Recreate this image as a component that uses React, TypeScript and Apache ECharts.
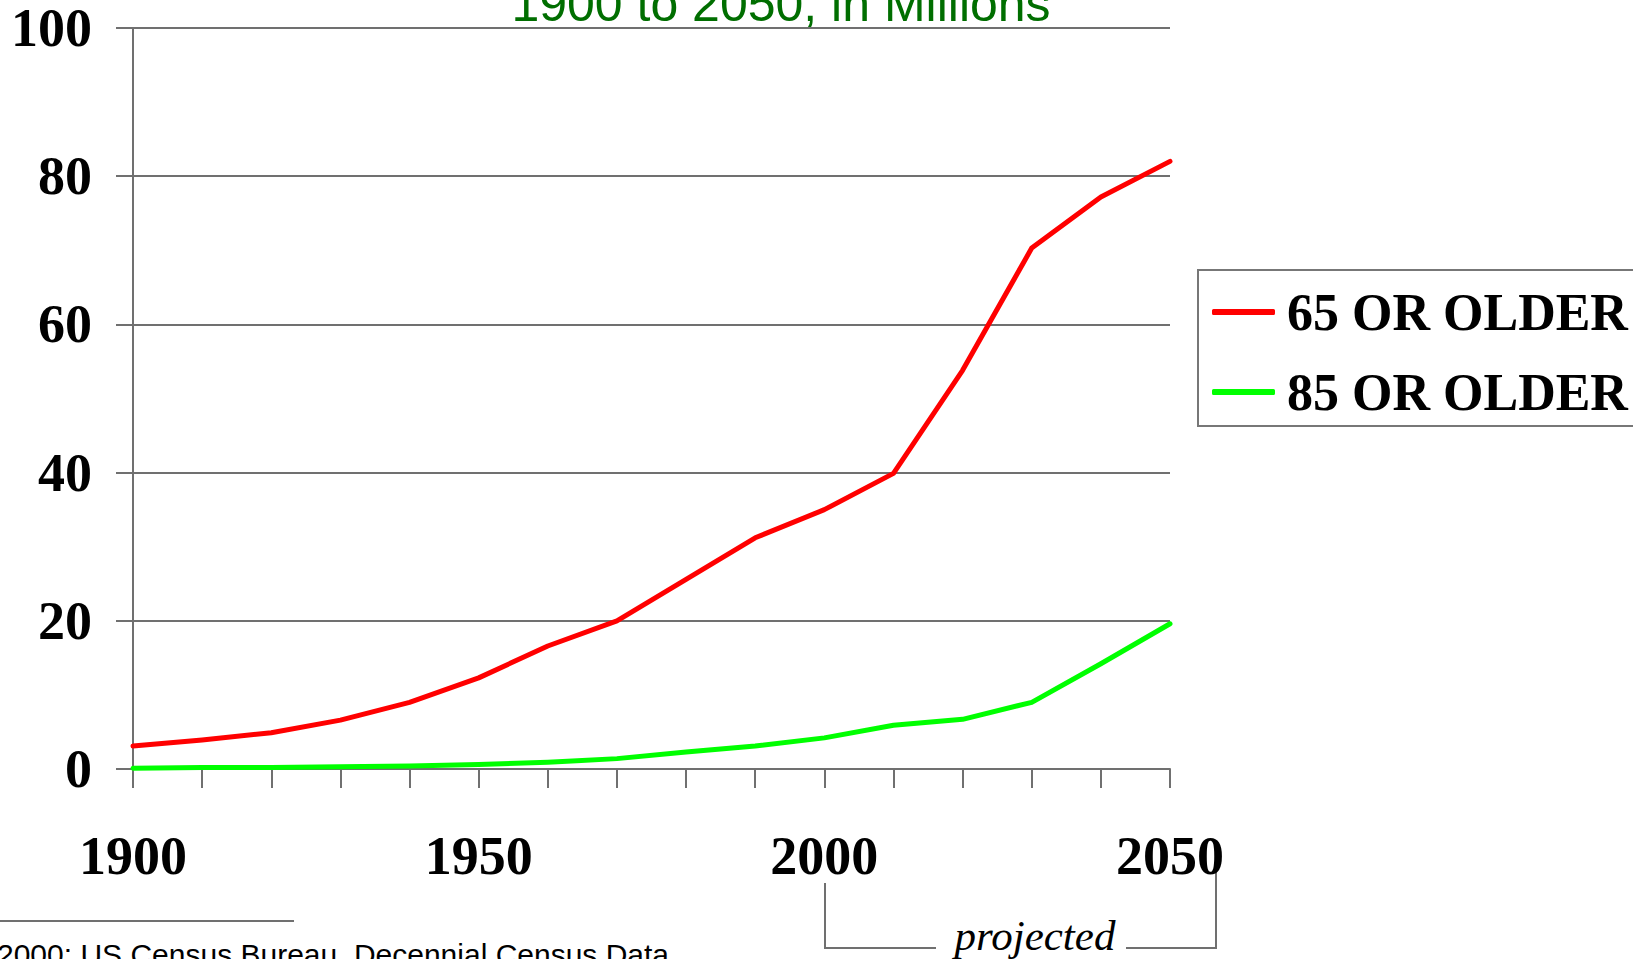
import React, { useEffect, useRef } from "react";
import * as echarts from "echarts";

const years = ["1900","1910","1920","1930","1940","1950","1960","1970","1980","1990","2000","2010","2020","2030","2040","2050"];
const age65 = [3.1, 3.9, 4.9, 6.6, 9.0, 12.3, 16.6, 20.0, 25.6, 31.2, 35.0, 39.9, 53.8, 70.3, 77.2, 82.0];
const age85 = [0.1, 0.2, 0.2, 0.3, 0.4, 0.6, 0.9, 1.4, 2.3, 3.1, 4.2, 5.9, 6.7, 9.0, 14.2, 19.6];
const seriesNames = ["65 OR OLDER", "85 OR OLDER"];
const titleText = "1900 to 2050, in Millions";
const sourceText = "2000: US Census Bureau, Decennial Census Data";
const projectedText = "projected";

const GRAY = "#707070";
const SERIF = '"Liberation Serif", "Times New Roman", serif';
const SANS = '"Liberation Sans", Arial, sans-serif';

export default function App() {
  const ref = useRef<HTMLDivElement>(null);
  useEffect(() => {
    if (!ref.current) return;
    const chart = echarts.init(ref.current, null, { renderer: "svg" });
    chart.setOption({
      animation: false,
      backgroundColor: "#ffffff",
      grid: { left: 133, right: 463, top: 28, bottom: 190, containLabel: false },
      legend: {
        orient: "vertical",
        left: 1198,
        top: 270,
        padding: [12, 60, 4, 14],
        itemGap: 20,
        itemWidth: 63,
        itemHeight: 6,
        icon: "roundRect",
        borderColor: "#777777",
        borderWidth: 2,
        backgroundColor: "#ffffff",
        data: seriesNames,
        textStyle: {
          fontFamily: SERIF,
          fontWeight: "bold",
          fontSize: 52,
          lineHeight: 60,
          color: "#000000",
          padding: [0, 0, 0, 7],
        },
      },
      xAxis: {
        type: "category",
        data: years,
        boundaryGap: false,
        axisLine: { show: true, lineStyle: { color: GRAY, width: 2 } },
        axisTick: { show: true, interval: 0, length: 19, lineStyle: { color: GRAY, width: 2 } },
        axisLabel: {
          interval: 4,
          margin: 60,
          fontFamily: SERIF,
          fontWeight: "bold",
          fontSize: 54,
          lineHeight: 54,
          color: "#000000",
        },
        splitLine: { show: false },
      },
      yAxis: {
        type: "value",
        min: 0,
        max: 100,
        interval: 20,
        axisLine: { show: true, lineStyle: { color: GRAY, width: 2 } },
        axisTick: { show: true, length: 17, lineStyle: { color: GRAY, width: 2 } },
        axisLabel: {
          margin: 41,
          fontFamily: SERIF,
          fontWeight: "bold",
          fontSize: 54,
          color: "#000000",
        },
        splitLine: { show: true, lineStyle: { color: GRAY, width: 2 } },
      },
      series: [
        {
          name: seriesNames[0],
          type: "line",
          data: age65,
          symbol: "none",
          itemStyle: { color: "#ff0000" },
          lineStyle: { color: "#ff0000", width: 5, cap: "round", join: "round" },
          z: 3,
        },
        {
          name: seriesNames[1],
          type: "line",
          data: age85,
          symbol: "none",
          itemStyle: { color: "#00ff00" },
          lineStyle: { color: "#00ff00", width: 5, cap: "round", join: "round" },
          z: 3,
        },
      ],
      graphic: [
        {
          type: "text",
          x: 781,
          y: 4,
          style: {
            text: titleText,
            fill: "#006e00",
            fontFamily: SANS,
            fontSize: 50,
            align: "center",
            verticalAlign: "middle",
          },
        },
        {
          type: "line",
          shape: { x1: 0, y1: 921, x2: 294, y2: 921 },
          style: { stroke: GRAY, lineWidth: 2 },
        },
        {
          type: "text",
          x: -3,
          y: 954,
          style: {
            text: sourceText,
            fill: "#000000",
            fontFamily: SANS,
            fontSize: 30,
            align: "left",
            verticalAlign: "middle",
          },
        },
        {
          type: "polyline",
          shape: { points: [[825, 883], [825, 948], [936, 948]] },
          style: { stroke: GRAY, lineWidth: 2, fill: "none" },
        },
        {
          type: "polyline",
          shape: { points: [[1126, 948], [1216, 948], [1216, 870]] },
          style: { stroke: GRAY, lineWidth: 2, fill: "none" },
        },
        {
          type: "text",
          x: 1035,
          y: 935,
          style: {
            text: projectedText,
            fill: "#000000",
            fontFamily: SERIF,
            fontStyle: "italic",
            fontSize: 43,
            align: "center",
            verticalAlign: "middle",
          },
        },
      ],
    });
    return () => chart.dispose();
  }, []);
  return (
    <div
      ref={ref}
      style={{ position: "absolute", left: 0, top: 0, width: 1633, height: 959 }}
    />
  );
}
